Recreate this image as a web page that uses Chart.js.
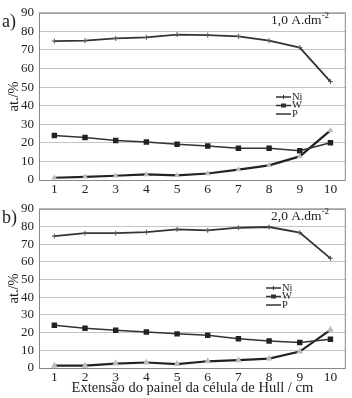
<!DOCTYPE html>
<html>
<head>
<meta charset="utf-8">
<script src="https://cdn.jsdelivr.net/npm/chart.js@4"></script>
<style>
  body { margin: 0; background: #fff; }
  #wrap { position: relative; width: 352px; height: 398px; }
  canvas { position: absolute; left: 0; }
</style>
</head>
<body>
<div id="wrap">
  <canvas id="graficoA" width="352" height="196" style="top:0"></canvas>
  <canvas id="graficoB" width="352" height="202" style="top:196px"></canvas>
</div>
<script>
// Dados (at.%)
const posicoes = ['1', '2', '3', '4', '5', '6', '7', '8', '9', '10'];
const niA = [74.8, 75.0, 76.2, 76.8, 78.3, 78.0, 77.3, 75.0, 71.3, 53.0];
const wA = [23.9, 22.9, 21.3, 20.4, 19.2, 18.3, 17.1, 17.1, 15.7, 20.1];
const pA = [1.2, 1.7, 2.3, 3.0, 2.5, 3.5, 5.6, 7.9, 12.7, 26.7];
const niB = [74.5, 76.2, 76.2, 76.8, 78.4, 77.8, 79.3, 79.7, 76.5, 62.0];
const wB = [24.2, 22.5, 21.3, 20.4, 19.3, 18.5, 16.5, 15.3, 14.4, 16.2];
const pB = [1.3, 1.3, 2.5, 3.1, 2.2, 3.8, 4.4, 5.3, 9.3, 21.6];

const serif = '"Liberation Serif", "Times New Roman", serif';
const corTexto = '#222';

// Textos e legenda desenhados dentro da área do gráfico
function pluginAnotacoes(letra, densidade, legX, legY) {
  return {
    id: 'anotacoes',
    afterDraw(chart) {
      const ctx = chart.ctx;
      const area = chart.chartArea;
      ctx.save();
      // moldura
      ctx.strokeStyle = '#888';
      ctx.lineWidth = 1;
      ctx.strokeRect(area.left + 0.5, area.top + 0.5, area.right - area.left - 1, area.bottom - area.top);
      ctx.fillStyle = corTexto;
      ctx.textBaseline = 'middle';
      // letra do painel
      ctx.font = '18px ' + serif;
      ctx.textAlign = 'left';
      ctx.fillText(letra, 2, area.top + 9);
      // densidade de corrente com expoente
      ctx.font = '13.5px ' + serif;
      const base = densidade + ' A.dm';
      const w = ctx.measureText(base).width;
      const x0 = 271;
      ctx.fillText(base, x0, area.top + 8);
      ctx.font = '9px ' + serif;
      ctx.fillText('-2', x0 + w, area.top + 3);
      // legenda
      const nomes = ['Ni', 'W', 'P'];
      ctx.font = '10.5px ' + serif;
      nomes.forEach((nome, i) => {
        const y = legY + i * 8.5;
        ctx.strokeStyle = '#333';
        ctx.lineWidth = 1.5;
        ctx.beginPath();
        ctx.moveTo(legX, y);
        ctx.lineTo(legX + 15, y);
        ctx.stroke();
        ctx.fillStyle = '#333';
        if (nome === 'W') ctx.fillRect(legX + 5, y - 2, 5, 4);
        if (nome === 'Ni') ctx.fillRect(legX + 7, y - 2, 1, 4);
        ctx.fillStyle = corTexto;
        ctx.fillText(nome, legX + 16, y);
      });
      ctx.restore();
    }
  };
}

function criarGrafico(id, ni, w, p, opts) {
  return new Chart(document.getElementById(id), {
    type: 'line',
    data: {
      labels: posicoes,
      datasets: [
        { label: 'Ni', data: ni, borderColor: '#333', borderWidth: 1.8, pointStyle: 'cross',
          pointRadius: 2.5, pointBorderColor: '#555', pointBorderWidth: 1, tension: 0 },
        { label: 'W', data: w, borderColor: '#333', borderWidth: 1.5, pointStyle: 'rect',
          pointRadius: 2.8, pointBackgroundColor: '#222', pointBorderColor: '#222', tension: 0 },
        { label: 'P', data: p, borderColor: '#222', borderWidth: 2.2, pointStyle: 'triangle',
          pointRadius: opts.raioP, pointBackgroundColor: '#bbb', pointBorderColor: '#bbb', tension: 0 },
      ],
    },
    options: {
      responsive: false,
      animation: false,
      layout: { padding: { left: 0, right: 4, top: opts.topo, bottom: 0 } },
      plugins: { legend: { display: false }, tooltip: { enabled: false } },
      scales: {
        x: {
          offset: true,
          grid: { display: false, drawTicks: false },
          border: { display: false },
          ticks: { color: corTexto, font: { family: serif, size: 13.5 }, padding: 1, maxRotation: 0, autoSkip: false },
          title: { display: !!opts.tituloX, text: opts.tituloX || '', color: corTexto,
                   font: { family: serif, size: 14.5 }, padding: { top: 0, bottom: 1 } },
          afterFit(scale) { scale.height = opts.alturaX; },
        },
        y: {
          min: 0, max: 90,
          ticks: { stepSize: 10, autoSkip: false, color: corTexto, font: { family: serif, size: 13 }, padding: 5 },
          grid: { color: '#c4c4c4', lineWidth: 1, drawTicks: false },
          border: { display: false },
          title: { display: true, text: 'at./%', color: corTexto,
                   font: { family: serif, size: 14.5 }, padding: { top: 5, bottom: 0 } },
          afterFit(scale) { scale.width = 39; },
        },
      },
    },
    plugins: [pluginAnotacoes(opts.letra, opts.densidade, opts.legX, opts.legY)],
  });
}

criarGrafico('graficoA', niA, wA, pA,
  { topo: 8, alturaX: 16, raioP: 1.2, letra: 'a)', densidade: '1,0', legX: 276, legY: 97 });
criarGrafico('graficoB', niB, wB, pB,
  { topo: 7, alturaX: 30, raioP: 1.8, letra: 'b)', densidade: '2,0', legX: 266, legY: 92,
    tituloX: 'Extensão do painel da célula de Hull / cm' });
</script>
</body>
</html>
